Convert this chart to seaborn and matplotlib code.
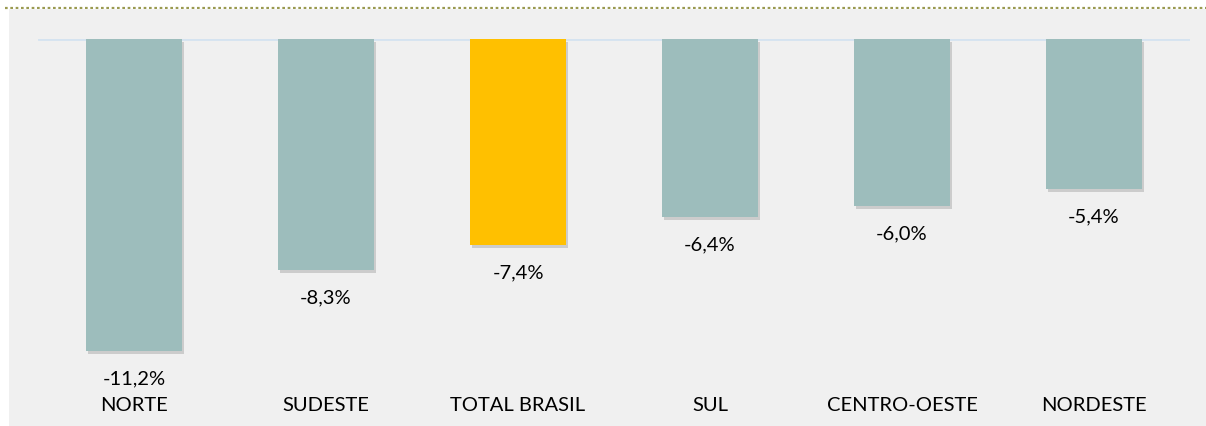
import numpy as np
import pandas as pd
import matplotlib.pyplot as plt
import matplotlib.patches as mpatches
import matplotlib.patheffects as pe
import seaborn as sns

regioes = ['NORTE', 'SUDESTE', 'TOTAL BRASIL', 'SUL', 'CENTRO-OESTE', 'NORDESTE']
variacao = [-11.2, -8.3, -7.4, -6.4, -6.0, -5.4]
cores = ['#9DBDBC', '#9DBDBC', '#FFC000', '#9DBDBC', '#9DBDBC', '#9DBDBC']

sns.set_theme(style='white')
plt.rcParams['font.family'] = ['Lato', 'DejaVu Sans']

df = pd.DataFrame({'regiao': regioes, 'var': variacao})

fig = plt.figure(figsize=(12.06, 4.27), dpi=100, facecolor='white')
# painel cinza de fundo
fig.patches.append(mpatches.Rectangle((9 / 1206, 0), 1, 1 - 10 / 427,
                                      transform=fig.transFigure, facecolor='#F0F0F0',
                                      edgecolor='none', zorder=-10))
fig.lines.append(plt.Line2D([5 / 1206, 1], [1 - 9 / 427, 1 - 9 / 427],
                            transform=fig.transFigure, color='#9A9A50',
                            lw=1.6, ls=(0, (1.2, 1.2)), zorder=-10))

ax = fig.add_axes([38 / 1206, 1 - 395 / 427, 1152 / 1206, 355 / 427])
ax.set_facecolor('none')
sns.barplot(data=df, x='regiao', y='var', hue='regiao', palette=cores,
            width=0.5, legend=False, ax=ax, saturation=1, zorder=3,
            edgecolor='none', linewidth=0)

for p in ax.patches:
    p.set_path_effects([pe.SimplePatchShadow(offset=(1.5, -2), shadow_rgbFace='#7a7a7a', alpha=0.3),
                        pe.Normal()])

ax.axhline(0, color='#D5E3F0', lw=2, zorder=2)
ax.set_ylim(-12.74, 0)
ax.set_xlim(-0.5, 5.5)

for i, v in enumerate(variacao):
    ax.annotate(f'{v:.1f}%'.replace('.', ','), (i, v), xytext=(0, -13),
                textcoords='offset points', ha='center', va='top',
                fontsize=14.5, color='black')

ax.set_xlabel('')
ax.set_ylabel('')
ax.set_yticks([])
ax.tick_params(axis='x', length=0, labelsize=14.5, pad=1.5, labelcolor='black')
for s in ax.spines.values():
    s.set_visible(False)

fig.savefig('out.png', dpi=100, facecolor='white')
